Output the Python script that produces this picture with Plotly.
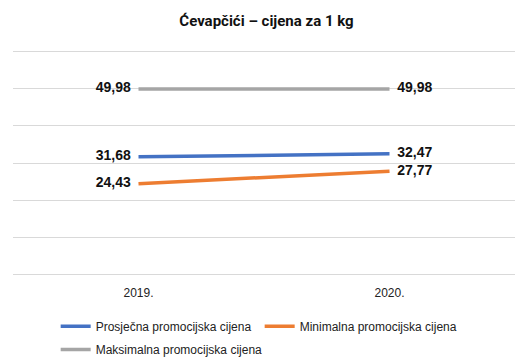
import plotly.graph_objects as go

years = ["2019.", "2020."]
prosjecna = [31.68, 32.47]
minimalna = [24.43, 27.77]
maksimalna = [49.98, 49.98]

names = ["Prosječna promocijska cijena", "Minimalna promocijska cijena", "Maksimalna promocijska cijena"]
colors = ["#4472C4", "#ED7D31", "#A5A5A5"]
legends = ["legend", "legend", "legend2"]
series = [prosjecna, minimalna, maksimalna]

NB = "\u00a0"
fig = go.Figure()
for name, vals, col, lg in zip(names, series, colors, legends):
    fig.add_trace(go.Scatter(
        x=years, y=vals, name=name, mode="lines+text", legend=lg,
        line=dict(color=col, width=3.5),
        text=[f"{v:.2f}".replace(".", ",") + NB * 2 if i == 0 else NB * 2 + f"{v:.2f}".replace(".", ",")
              for i, v in enumerate(vals)],
        texttemplate="%{text}",
        textposition=["middle left", "middle right"],
        textfont=dict(family="Liberation Sans, Arial", size=14, color="#111111", weight="bold"),
        cliponaxis=False,
    ))

legfont = dict(family="Liberation Sans, Arial", size=12, color="#222222")
fig.update_layout(
    width=517, height=353,
    paper_bgcolor="white", plot_bgcolor="white",
    margin=dict(l=5, r=10, t=40, b=83, autoexpand=False),
    title=dict(text="<b>Ćevapčići – cijena za 1 kg</b>", x=0.5, xanchor="center", y=0.965, yanchor="middle",
               font=dict(family="Roboto", size=15, color="#111111")),
    xaxis=dict(type="category", range=[-0.5, 1.5], showgrid=False, showline=False, zeroline=False,
               ticks="", ticklabelstandoff=6, tickfont=legfont),
    yaxis=dict(range=[-1, 61], dtick=10, tick0=0, showgrid=True, gridcolor="#D9D9D9", gridwidth=1,
               showticklabels=False, zeroline=False, showline=False),
    legend=dict(orientation="h", x=0.085, xanchor="left", y=-0.1466, yanchor="top",
                font=legfont, entrywidth=159, entrywidthmode="pixels", tracegroupgap=0),
    legend2=dict(orientation="h", x=0.085, xanchor="left", y=-0.248, yanchor="top",
                 font=legfont, tracegroupgap=0),
    showlegend=True,
)
fig.write_html("out.html")
